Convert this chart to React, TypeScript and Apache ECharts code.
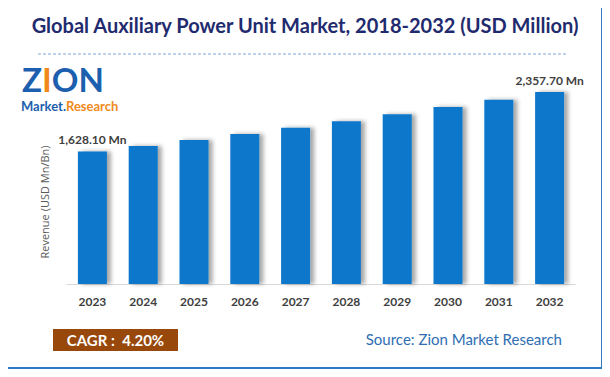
import React, { useEffect, useRef } from "react";
import * as echarts from "echarts";

const years = ["2023", "2024", "2025", "2026", "2027", "2028", "2029", "2030", "2031", "2032"];
const revenue = [1628.1, 1696, 1768, 1842, 1919, 2000, 2084, 2172, 2263, 2357.7];
const firstLabel = "1,628.10 Mn";
const lastLabel = "2,357.70 Mn";
const titleText = "Global Auxiliary Power Unit Market, 2018-2032 (USD Million)";
const yName = "Revenue (USD Mn/Bn)";
const cagrText = "CAGR :  4.20%";
const sourceText = "Source: Zion Market Research";

export default function App() {
  const ref = useRef<HTMLDivElement>(null);
  useEffect(() => {
    const chart = echarts.init(ref.current!, null, { renderer: "svg" });
    const n = revenue.length;
    const big = { fontFamily: "Lato", fontWeight: "bold", fontSize: 33 };
    const small = { fontFamily: "Lato", fontWeight: "bold", fontSize: 13 };
    chart.setOption({
      animation: false,
      backgroundColor: "#ffffff",
      title: {
        text: titleText,
        left: "center",
        top: 10,
        textStyle: {
          fontFamily: "Lato",
          fontWeight: "bold",
          fontSize: 20,
          color: "#1f2b6e",
        },
      },
      grid: { left: 67, right: 35, top: 92, bottom: 93 },
      xAxis: {
        type: "category",
        data: years,
        axisLine: { show: true, lineStyle: { color: "#d9d9d9", width: 1 } },
        axisTick: { show: false },
        axisLabel: {
          color: "#404040",
          fontFamily: "Lato",
          fontWeight: "bold",
          fontSize: 12,
          margin: 11,
        },
      },
      yAxis: {
        type: "value",
        min: 0,
        max: "dataMax",
        show: true,
        axisLine: { show: false },
        axisTick: { show: false },
        axisLabel: { show: false },
        splitLine: { show: false },
        name: yName,
        nameLocation: "middle",
        nameGap: 17,
        nameRotate: 90,
        nameTextStyle: {
          color: "#595959",
          fontFamily: "Open Sans",
          fontSize: 11,
          padding: [0, 28, 0, 0],
        },
      },
      series: [
        {
          type: "bar",
          data: revenue,
          barWidth: 29,
          itemStyle: {
            color: "#0a77cc",
            shadowColor: "rgba(0,0,0,0.35)",
            shadowBlur: 4,
            shadowOffsetX: 4,
            shadowOffsetY: 0,
          },
          label: {
            show: true,
            position: "top",
            distance: 6,
            color: "#404040",
            fontFamily: "Lato",
            fontWeight: "bold",
            fontSize: 12,
            formatter: (p: any) =>
              p.dataIndex === 0 ? firstLabel : p.dataIndex === n - 1 ? lastLabel : "",
          },
        },
      ],
      graphic: [
        {
          type: "rect",
          shape: { x: 7, y: 7, width: 595, height: 361 },
          style: { fill: "none", stroke: "#2e7bc4", lineWidth: 2 },
          silent: true,
        },
        {
          type: "line",
          shape: { x1: 38, y1: 54, x2: 566, y2: 54 },
          style: { stroke: "#7ea6d8", lineWidth: 1, lineDash: [3, 2] },
        },
        {
          type: "text",
          x: 22,
          y: 79,
          style: {
            text: "{z|Z}{i|I}{o|O}{n|N}",
            verticalAlign: "middle",
            rich: {
              z: { ...big, fill: "#1b5fae" },
              i: { ...big, fill: "#f08a1c" },
              o: { ...big, fill: "#1b5fae" },
              n: { ...big, fill: "#1b5fae" },
            },
          },
        },
        {
          type: "text",
          x: 21,
          y: 105.5,
          style: {
            text: "{m|Market.}{r|Research}",
            verticalAlign: "middle",
            rich: {
              m: { ...small, fill: "#1b5fae" },
              r: { ...small, fill: "#f08a1c" },
            },
          },
        },
        {
          type: "rect",
          shape: { x: 53, y: 329, width: 125, height: 22 },
          style: { fill: "#98480a" },
        },
        {
          type: "text",
          x: 115.5,
          y: 340,
          style: {
            text: cagrText,
            fill: "#ffffff",
            fontFamily: "Lato",
            fontWeight: "bold",
            fontSize: 15,
            align: "center",
            verticalAlign: "middle",
          },
        },
        {
          type: "text",
          x: 562,
          y: 339,
          style: {
            text: sourceText,
            fill: "#2e6eb3",
            fontFamily: "Lato",
            fontSize: 15,
            align: "right",
            verticalAlign: "middle",
          },
        },
      ],
    });
    return () => chart.dispose();
  }, []);
  return <div ref={ref} style={{ width: 610, height: 377, margin: -8 }} />;
}
